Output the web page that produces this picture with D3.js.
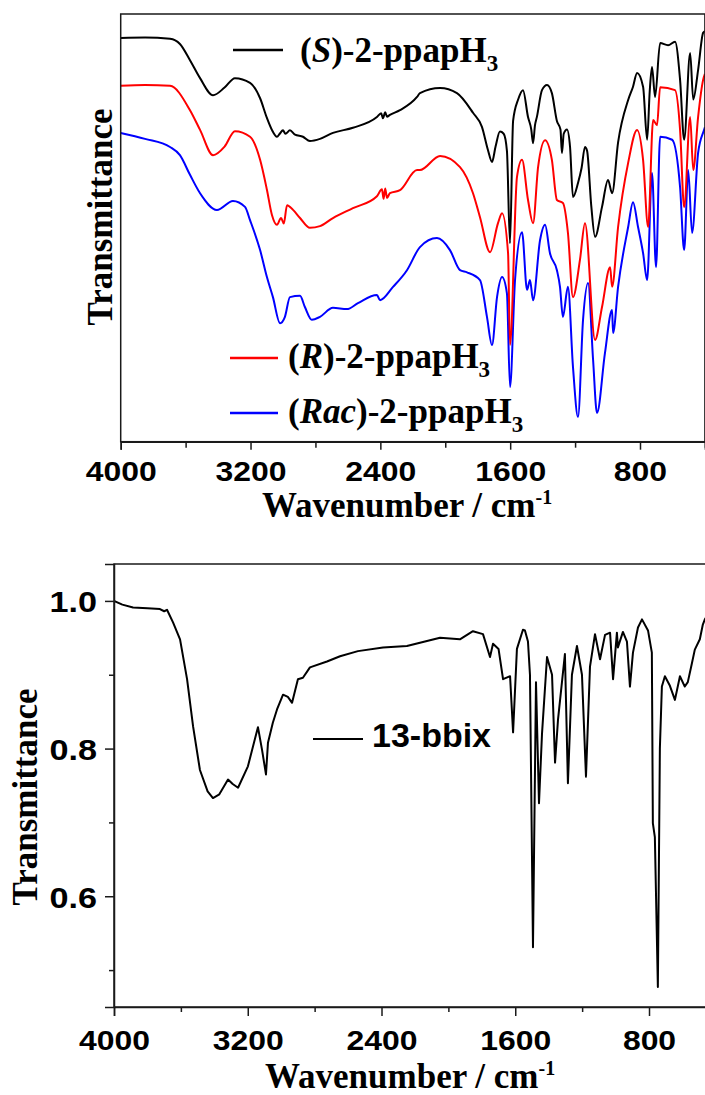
<!DOCTYPE html>
<html>
<head>
<meta charset="utf-8">
<script src="https://cdn.jsdelivr.net/npm/d3@7"></script>
<style>
  body { margin: 0; background: #fff; }
  svg { display: block; }
</style>
</head>
<body>
<div id="chart"></div>
<script>
// wavenumber (cm-1), transmittance (a.u., top panel offset traces)
const sppap = [[4000,94.4],[3850,94.5],[3696,94.2],[3635,93.0],[3573,89.2],[3511,85.0],[3431,81.0],[3360,82.8],[3296,85.0],[3203,83.9],[3141,80.3],[3099,75.7],[3068,72.9],[3037,71.3],[3020,72.0],[3000,72.8],[2985,72.0],[2957,72.8],[2926,71.8],[2877,71.3],[2834,70.3],[2772,70.8],[2692,72.2],[2569,73.4],[2421,75.9],[2395,76.8],[2384,75.6],[2370,77.0],[2359,76.0],[2341,76.4],[2279,77.5],[2174,80.6],[2156,81.5],[2032,82.7],[1928,81.5],[1829,76.9],[1774,73.6],[1737,68.2],[1712,65.4],[1690,69.0],[1663,72.5],[1640,72.0],[1620,68.0],[1601,46.4],[1582,75.0],[1551,80.0],[1521,82.2],[1490,75.9],[1470,73.0],[1459,69.8],[1447,74.0],[1435,76.0],[1404,82.2],[1373,83.4],[1343,81.5],[1312,75.0],[1290,73.0],[1281,67.5],[1270,72.0],[1250,73.0],[1231,68.9],[1213,57.2],[1182,60.5],[1160,64.0],[1139,68.9],[1126,68.0],[1100,55.0],[1077,47.9],[1034,54.9],[997,61.2],[972,58.1],[935,70.0],[873,79.9],[843,83.0],[818,86.2],[781,83.0],[756,70.6],[740,82.0],[726,87.6],[707,80.6],[676,93.2],[627,92.7],[584,93.5],[553,84.6],[528,70.6],[491,90.9],[472,80.0],[442,86.9],[411,95.6],[400,96.0]];

const rppap = [[4000,83.2],[3850,83.4],[3696,83.2],[3573,77.5],[3511,72.9],[3431,67.0],[3360,69.0],[3296,72.6],[3203,71.3],[3141,65.9],[3099,58.9],[3068,53.0],[3037,50.7],[3012,52.3],[2995,51.0],[2975,55.3],[2938,54.2],[2895,52.3],[2834,50.0],[2772,50.4],[2692,52.3],[2569,54.6],[2421,57.4],[2390,59.0],[2380,56.8],[2370,59.2],[2359,57.0],[2341,58.1],[2279,58.8],[2174,63.5],[2156,63.5],[2032,66.8],[1909,64.2],[1829,58.1],[1786,52.5],[1724,44.3],[1675,51.1],[1650,53.4],[1613,44.1],[1601,22.6],[1558,61.9],[1527,65.9],[1490,56.5],[1459,51.1],[1428,64.2],[1385,70.5],[1343,65.9],[1312,56.5],[1275,55.8],[1244,48.8],[1213,33.8],[1170,42.5],[1139,51.1],[1077,23.8],[1034,31.5],[984,40.8],[972,36.2],[935,50.2],[873,65.2],[818,72.9],[781,65.9],[750,50.2],[719,75.2],[695,74.0],[676,82.9],[584,82.2],[553,72.9],[528,54.8],[491,75.9],[472,63.5],[442,75.9],[411,84.6],[400,86.0]];

const racppap = [[4000,72.2],[3850,70.8],[3696,68.9],[3635,67.0],[3573,62.4],[3511,58.1],[3407,54.2],[3308,56.3],[3234,54.9],[3203,51.8],[3141,44.8],[3099,38.5],[3062,33.8],[3018,27.7],[2988,29.2],[2957,33.8],[2895,34.1],[2865,31.5],[2822,28.5],[2772,29.2],[2692,31.3],[2606,31.0],[2538,32.4],[2421,34.3],[2402,33.1],[2322,36.2],[2236,40.1],[2156,45.5],[2051,47.6],[1971,44.8],[1909,40.1],[1866,39.6],[1786,37.8],[1743,29.2],[1712,22.6],[1681,33.8],[1650,38.5],[1620,34.7],[1601,12.8],[1570,37.8],[1527,49.0],[1496,35.5],[1478,37.8],[1459,33.1],[1416,47.1],[1385,50.7],[1355,44.1],[1312,40.1],[1293,36.2],[1275,29.2],[1244,36.2],[1213,17.5],[1182,5.8],[1151,28.5],[1120,37.1],[1089,19.1],[1065,6.7],[1016,20.7],[972,30.8],[966,25.4],[935,36.2],[873,50.2],[843,56.0],[812,50.2],[781,44.1],[756,37.8],[726,62.8],[701,40.8],[676,71.3],[602,70.6],[553,59.5],[528,44.8],[503,63.5],[479,48.8],[442,67.5],[405,72.9],[400,73.5]];

// bottom panel: 13-bbix transmittance
const bbix = [[4000,1.0],[3950,0.995],[3886,0.991],[3800,0.990],[3725,0.989],[3700,0.986],[3683,0.988],[3647,0.971],[3605,0.948],[3563,0.894],[3527,0.830],[3486,0.771],[3440,0.742],[3408,0.733],[3370,0.738],[3318,0.758],[3290,0.752],[3258,0.747],[3199,0.776],[3139,0.829],[3115,0.799],[3091,0.765],[3079,0.808],[3050,0.835],[3025,0.853],[2989,0.873],[2960,0.870],[2935,0.862],[2900,0.894],[2870,0.896],[2828,0.910],[2726,0.918],[2648,0.925],[2541,0.932],[2391,0.937],[2248,0.939],[2050,0.950],[1931,0.948],[1853,0.959],[1793,0.955],[1751,0.924],[1733,0.942],[1700,0.935],[1673,0.894],[1631,0.898],[1613,0.822],[1590,0.935],[1554,0.961],[1542,0.960],[1524,0.945],[1512,0.900],[1494,0.531],[1476,0.890],[1458,0.726],[1440,0.820],[1410,0.924],[1380,0.900],[1362,0.781],[1344,0.840],[1303,0.928],[1285,0.753],[1261,0.900],[1231,0.939],[1201,0.900],[1177,0.762],[1153,0.911],[1123,0.955],[1093,0.921],[1063,0.954],[1033,0.957],[1015,0.894],[992,0.957],[986,0.937],[956,0.958],[932,0.945],[914,0.884],[896,0.930],[866,0.964],[842,0.975],[806,0.960],[783,0.930],[777,0.699],[765,0.680],[747,0.477],[735,0.800],[723,0.884],[705,0.898],[675,0.885],[645,0.866],[615,0.898],[586,0.884],[568,0.890],[544,0.915],[526,0.934],[496,0.948],[478,0.968],[466,0.975],[440,0.985]];

const xMajor = [4000, 3200, 2400, 1600, 800];
const xMinor = [3600, 2800, 2000, 1200, 400];
const yMajor = [1.0, 0.8, 0.6];
const yMinor = [0.9, 0.7, 0.5];

const width = 705, height = 1095;
const svg = d3.select("#chart").append("svg")
  .attr("width", width).attr("height", height);

const serif = "'Liberation Serif', 'Times New Roman', serif";
const sans = "'Liberation Sans', Arial, sans-serif";
const axisColor = "#1a1a1a";
const stretch = 1.14;

// ---- top panel ----
const topP = { left: 120.7, top: 14, bottom: 441.7 };
const x1 = d3.scaleLinear().domain([4000, 400]).range([topP.left, topP.left + 3600 * 0.16228]);
const y1 = d3.scaleLinear().domain([0, 100]).range([topP.bottom, topP.top]);

svg.append("clipPath").attr("id", "clipTop")
  .append("rect").attr("x", x1(4000)).attr("y", y1(100))
  .attr("width", x1(400) - x1(4000)).attr("height", y1(0) - y1(100));

const line1 = d3.line().x(d => x1(d[0])).y(d => y1(d[1])).curve(d3.curveMonotoneX);

const topSeries = [
  { data: racppap, color: "#0000ff" },
  { data: rppap, color: "#ff0000" },
  { data: sppap, color: "#000000" }
];
svg.append("g").attr("clip-path", "url(#clipTop)")
  .selectAll("path").data(topSeries).join("path")
  .attr("fill", "none")
  .attr("stroke", d => d.color)
  .attr("stroke-width", 2)
  .attr("stroke-linejoin", "round")
  .attr("d", d => line1(d.data));

// frame
svg.append("rect")
  .attr("x", x1(4000)).attr("y", y1(100))
  .attr("width", x1(400) - x1(4000)).attr("height", y1(0) - y1(100))
  .attr("fill", "none").attr("stroke", axisColor).attr("stroke-width", 1.5);

function drawXAxis(xs, yPos, labelY, majorLen, minorLen) {
  const gMaj = svg.append("g").attr("transform", `translate(0,${yPos})`)
    .call(d3.axisBottom(xs).tickValues(xMajor).tickSize(majorLen).tickFormat(d3.format("d")));
  gMaj.select(".domain").attr("stroke", axisColor).attr("stroke-width", 1.5);
  gMaj.selectAll(".tick line").attr("stroke", axisColor).attr("stroke-width", 1.5);
  gMaj.selectAll(".tick text")
    .attr("y", labelY).attr("dy", 0)
    .attr("transform", `scale(${stretch},1)`)
    .attr("fill", "#000")
    .style("font-family", sans).style("font-weight", "bold").style("font-size", "28px");
  const gMin = svg.append("g").attr("transform", `translate(0,${yPos})`)
    .call(d3.axisBottom(xs).tickValues(xMinor).tickSize(minorLen).tickFormat(""));
  gMin.select(".domain").remove();
  gMin.selectAll(".tick line").attr("stroke", axisColor).attr("stroke-width", 1.5);
}

drawXAxis(x1, topP.bottom, 39, 8, 6);

function xTitle(xStart, baseline) {
  const t = svg.append("text").attr("x", xStart).attr("y", baseline)
    .style("font-family", serif).style("font-weight", "bold").style("font-size", "35px");
  t.append("tspan").text("Wavenumber / cm");
  t.append("tspan").attr("dy", -13).style("font-size", "20px").text("-1");
}
function yTitle(xBase, yCenter) {
  svg.append("text")
    .attr("transform", `translate(${xBase},${yCenter}) rotate(-90)`)
    .attr("text-anchor", "middle")
    .style("font-family", serif).style("font-weight", "bold").style("font-size", "35px")
    .text("Transmittance");
}

xTitle(262, 517);
yTitle(112, 217);

// legends (top)
const legendTop = [
  { color: "#000000", it: "S", x0: 233, x1: 283, ly: 50, tx: 300, ty: 62 },
  { color: "#ff0000", it: "R", x0: 230, x1: 278, ly: 358, tx: 288, ty: 368 },
  { color: "#0000ff", it: "Rac", x0: 230, x1: 278, ly: 413, tx: 288, ty: 423 }
];
legendTop.forEach(l => {
  svg.append("line").attr("x1", l.x0).attr("x2", l.x1).attr("y1", l.ly).attr("y2", l.ly)
    .attr("stroke", l.color).attr("stroke-width", 2.5);
  const t = svg.append("text").attr("x", l.tx).attr("y", l.ty)
    .style("font-family", serif).style("font-weight", "bold").style("font-size", "35px");
  t.append("tspan").text("(");
  t.append("tspan").style("font-style", "italic").text(l.it);
  t.append("tspan").text(")-2-ppapH");
  t.append("tspan").attr("dy", 9).style("font-size", "23px").text("3");
});

// ---- bottom panel ----
const botP = { left: 114, top: 564, bottom: 1007 };
const x2 = d3.scaleLinear().domain([4000, 400]).range([botP.left, botP.left + 3600 * 0.16719]);
const y2 = d3.scaleLinear().domain([0.45, 1.05]).range([botP.bottom, botP.top]);

svg.append("clipPath").attr("id", "clipBot")
  .append("rect").attr("x", x2(4000)).attr("y", y2(1.05))
  .attr("width", x2(400) - x2(4000)).attr("height", y2(0.45) - y2(1.05));

const line2 = d3.line().x(d => x2(d[0])).y(d => y2(d[1]));
svg.append("path").datum(bbix)
  .attr("clip-path", "url(#clipBot)")
  .attr("fill", "none").attr("stroke", "#000").attr("stroke-width", 2)
  .attr("stroke-linejoin", "round")
  .attr("d", line2);

svg.append("rect")
  .attr("x", x2(4000)).attr("y", y2(1.05))
  .attr("width", x2(400) - x2(4000)).attr("height", y2(0.45) - y2(1.05))
  .attr("fill", "none").attr("stroke", axisColor).attr("stroke-width", 1.5);

drawXAxis(x2, botP.bottom, 43, 9, 5);

const gY = svg.append("g").attr("transform", `translate(${botP.left},0)`)
  .call(d3.axisLeft(y2).tickValues(yMajor).tickSize(9).tickFormat(d3.format(".1f")));
gY.select(".domain").attr("stroke", axisColor).attr("stroke-width", 1.5);
gY.selectAll(".tick line").attr("stroke", axisColor).attr("stroke-width", 1.5);
gY.selectAll(".tick text")
  .attr("x", -15).attr("dy", "0.36em")
  .attr("transform", `scale(${stretch},1)`)
  .attr("fill", "#000")
  .style("font-family", sans).style("font-weight", "bold").style("font-size", "30px");
const gYm = svg.append("g").attr("transform", `translate(${botP.left},0)`)
  .call(d3.axisLeft(y2).tickValues(yMinor).tickSize(5).tickFormat(""));
gYm.select(".domain").remove();
gYm.selectAll(".tick line").attr("stroke", axisColor).attr("stroke-width", 1.5);

xTitle(265, 1088);
yTitle(37, 797);

svg.append("line").attr("x1", 313).attr("x2", 363).attr("y1", 739).attr("y2", 739)
  .attr("stroke", "#000").attr("stroke-width", 2);
svg.append("text").attr("x", 372).attr("y", 747)
  .style("font-family", sans).style("font-weight", "bold").style("font-size", "34px")
  .text("13-bbix");
</script>
</body>
</html>
